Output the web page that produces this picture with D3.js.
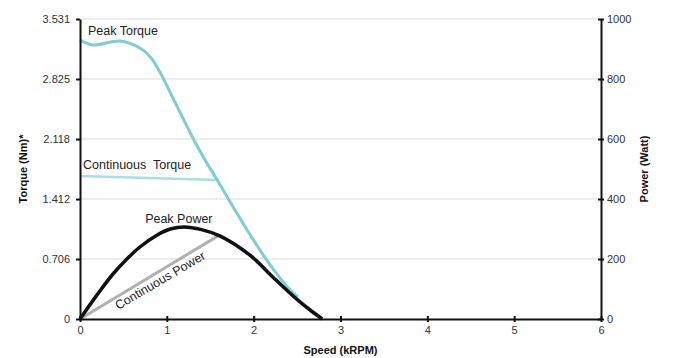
<!DOCTYPE html>
<html>
<head>
<meta charset="utf-8">
<script src="https://cdn.jsdelivr.net/npm/d3@7"></script>
<style>
  body { margin: 0; background: #fff; }
  text { font-family: "Liberation Sans", Arial, sans-serif; }
</style>
</head>
<body>
<div id="chart"></div>
<script>
// data (speed in kRPM)
var torqueTicks = [0, 0.706, 1.412, 2.118, 2.825, 3.531];
var powerTicks = [0, 200, 400, 600, 800, 1000];
var speedTicks = [0, 1, 2, 3, 4, 5, 6];

var peakTorqueSpeed = [0, 0.15, 0.46, 0.69, 0.81, 0.92, 1.07, 1.19, 1.30, 1.44, 1.58, 1.84, 2.15, 2.42, 2.51];
var peakTorque      = [3.284, 3.225, 3.272, 3.19, 3.084, 2.907, 2.601, 2.354, 2.13, 1.871, 1.636, 1.19, 0.694, 0.341, 0.259];

var contTorqueSpeed = [0, 1.59];
var contTorque      = [1.683, 1.636];

var peakPowerSpeed = [0, 0.19, 0.38, 0.54, 0.69, 0.89, 1.04, 1.2, 1.4, 1.61, 1.96, 2.22, 2.4, 2.53, 2.65, 2.79];
var peakPower      = [0, 78, 150, 200, 240, 280, 300, 307, 298, 277, 212, 140, 91, 58, 30, 0];

var contPowerSpeed = [0, 1.59];
var contPower      = [0, 277];

var W = 676, H = 358;
var margin = {top: 19, right: 75, bottom: 39, left: 80};

var svg = d3.select("#chart").append("svg")
  .attr("width", W)
  .attr("height", H);

var x = d3.scaleLinear().domain([0, 6]).range([margin.left, W - margin.right]);
var yT = d3.scaleLinear().domain([0, 3.531]).range([H - margin.bottom, margin.top]);
var yP = d3.scaleLinear().domain([0, 1000]).range([H - margin.bottom, margin.top]);

// gridlines
svg.append("g").selectAll("line").data(torqueTicks.slice(1)).enter().append("line")
  .attr("x1", x(0)).attr("x2", x(6))
  .attr("y1", d => yT(d)).attr("y2", d => yT(d))
  .attr("stroke", "#dcdcdc").attr("stroke-width", 1);

function zip(a, b) { return a.map((v, i) => [v, b[i]]); }

var smooth = d3.curveCatmullRom.alpha(0.5);
var lineT = d3.line().x(d => x(d[0])).y(d => yT(d[1])).curve(smooth);
var lineP = d3.line().x(d => x(d[0])).y(d => yP(d[1])).curve(smooth);

svg.append("path").attr("d", lineT(zip(contTorqueSpeed, contTorque)))
  .attr("fill", "none").attr("stroke", "#a9dfe2").attr("stroke-width", 2.5);
svg.append("path").attr("d", lineP(zip(contPowerSpeed, contPower)))
  .attr("fill", "none").attr("stroke", "#b0b0b0").attr("stroke-width", 3);
svg.append("path").attr("d", lineT(zip(peakTorqueSpeed, peakTorque)))
  .attr("fill", "none").attr("stroke", "#7fcdd2").attr("stroke-width", 3);
svg.append("path").attr("d", lineP(zip(peakPowerSpeed, peakPower)))
  .attr("fill", "none").attr("stroke", "#111").attr("stroke-width", 3.5);

// axes
function styleAxis(g) {
  g.select(".domain").attr("stroke", "#111").attr("stroke-width", 2);
  g.selectAll(".tick line").attr("stroke", "#111").attr("stroke-width", 2);
  g.selectAll(".tick text").attr("fill", "#333").style("font-size", "11px")
    .style("font-family", "Liberation Sans, Arial, sans-serif");
}

var gx = svg.append("g").attr("transform", "translate(0," + (H - margin.bottom) + ")")
  .call(d3.axisBottom(x).tickValues(speedTicks).tickFormat(d3.format("d")).tickSizeOuter(0).tickSizeInner(3).tickPadding(4));
styleAxis(gx);
gx.selectAll(".tick line").attr("y1", -3);

var gl = svg.append("g").attr("transform", "translate(" + margin.left + ",0)")
  .call(d3.axisLeft(yT).tickValues(torqueTicks).tickFormat(d => d === 0 ? "0" : d3.format(".3f")(d)).tickSizeOuter(0).tickSizeInner(4).tickPadding(6));
styleAxis(gl);

var gr = svg.append("g").attr("transform", "translate(" + x(6) + ",0)")
  .call(d3.axisRight(yP).tickValues(powerTicks).tickFormat(d3.format("d")).tickSizeOuter(0).tickSizeInner(3).tickPadding(3));
styleAxis(gr);
gr.selectAll(".tick line").attr("x1", -3);

// curve labels
var lab = svg.append("g").attr("fill", "#222").style("font-size", "12.5px");
lab.append("text").attr("x", x(0) + 8).attr("y", yT(3.531) + 16).text("Peak Torque");
lab.append("text").attr("x", x(0) + 3).attr("y", yT(contTorque[0]) - 7)
  .attr("xml:space", "preserve").style("white-space", "pre").text("Continuous  Torque");
lab.append("text").attr("x", x(0.75)).attr("y", yP(320)).text("Peak Power");
lab.append("text").attr("transform", "translate(" + (x(0.44)) + "," + yP(30) + ") rotate(-30.5)")
  .text("Continuous Power");

// axis titles
var tt = svg.append("g").attr("fill", "#111").style("font-size", "11px").style("font-weight", "bold");
tt.append("text").attr("x", (x(0) + x(6)) / 2).attr("y", H - 4).attr("text-anchor", "middle").text("Speed (kRPM)");
tt.append("text").attr("transform", "translate(27," + ((margin.top + H - margin.bottom) / 2) + ") rotate(-90)")
  .attr("text-anchor", "middle").text("Torque (Nm)*");
tt.append("text").attr("transform", "translate(648," + ((margin.top + H - margin.bottom) / 2) + ") rotate(-90)")
  .attr("text-anchor", "middle").text("Power (Watt)");
</script>
</body>
</html>
